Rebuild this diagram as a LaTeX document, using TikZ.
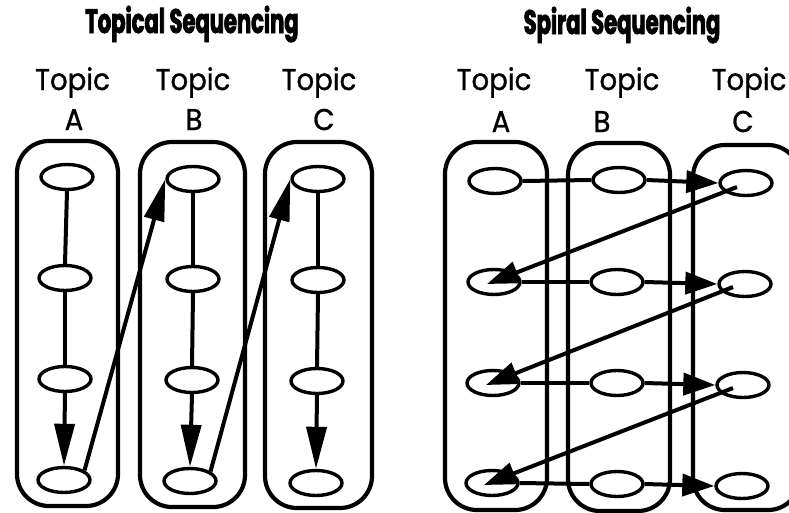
\documentclass[tikz,border=0pt]{standalone}
\usepackage{fontspec}
\setmainfont{Poppins}
\newfontfamily\headfont{Poppins}[FakeStretch=0.62,BoldFeatures={FakeBold=2.2}]
\newfontfamily\topicfont{Poppins}[FakeStretch=0.92,FakeBold=1]
\usetikzlibrary{arrows.meta,shapes.geometric}

\begin{document}
\begin{tikzpicture}[x=1pt,y=-1pt,
  group/.style={draw,line width=4.2pt,rounded corners=32pt,inner sep=0pt},
  item/.style={draw,ellipse,line width=3.4pt,minimum width=52pt,minimum height=25pt,inner sep=0pt},
  plainline/.style={line width=4pt},
  vtip/.style={line width=4pt,-{Triangle[length=42pt,width=20pt]}},
  htip/.style={line width=4pt,-{Triangle[length=32pt,width=22pt]}},
  heading/.style={font=\headfont\bfseries\fontsize{34}{36}\selectfont,inner sep=0pt,anchor=base},
  topiclbl/.style={font=\topicfont\fontsize{30}{32}\selectfont,inner sep=0pt,anchor=base}
]
\clip (0,0) rectangle (789,512);

% ---------- headings ----------
\node[heading] (hL) at (192,33) {Topical Sequencing};
\node[heading] (hR) at (622,34) {Spiral Sequencing};

\node[topiclbl] (tLA) at (72.5,90) {Topic};
\node[topiclbl] (tLB) at (193,90) {Topic};
\node[topiclbl] (tLC) at (319,90) {Topic};
\node[topiclbl] (lLA) at (74,130) {A};
\node[topiclbl] (lLB) at (194,130) {B};
\node[topiclbl] (lLC) at (324,130) {C};

\node[topiclbl] (tRA) at (494,90) {Topic};
\node[topiclbl] (tRB) at (622,90) {Topic};
\node[topiclbl] (tRC) at (749,90) {Topic};
\node[topiclbl] (lRA) at (501,132) {A};
\node[topiclbl] (lRB) at (602,132) {B};
\node[topiclbl] (lRC) at (743,132) {C};

% ---------- topical sequencing ----------
\node[group,minimum width=101pt,minimum height=365pt] (LA) at (67.5,323.5) {};
\node[group,minimum width=105pt,minimum height=365pt] (LB) at (192.5,324.5) {};
\node[group,minimum width=107pt,minimum height=366pt] (LC) at (318.5,325) {};

\node[item] (a1) at (67,177) {};
\node[item] (a2) at (65,278) {};
\node[item] (a3) at (65,379) {};
\node[item] (a4) at (64,480) {};
\node[item] (b1) at (193,179) {};
\node[item] (b2) at (193,279) {};
\node[item] (b3) at (192,380) {};
\node[item] (b4) at (190,481) {};
\node[item] (c1) at (318,179) {};
\node[item] (c2) at (318,280) {};
\node[item] (c3) at (317,381) {};
\node[item] (c4) at (316,483) {};

\draw[plainline] (a1.south) -- (a2.north);
\draw[plainline] (a2.south) -- (a3.north);
\draw[vtip] (a3.south) -- (a4.north);
\draw[vtip] (a4.25) -- (b1.west);
\draw[plainline] (b1.south) -- (b2.north);
\draw[plainline] (b2.south) -- (b3.north);
\draw[vtip] (b3.south) -- (b4.north);
\draw[vtip] (b4.25) -- (c1.west);
\draw[plainline] (c1.south) -- (c2.north);
\draw[plainline] (c2.south) -- (c3.north);
\draw[vtip] (c3.south) -- (c4.north);

% ---------- spiral sequencing ----------
\node[group,minimum width=102pt,minimum height=368pt] (RA) at (496,326) {};
\node[group,minimum width=102pt,minimum height=368pt] (RB) at (619,327) {};
\node[group,minimum width=107pt,minimum height=365pt] (RC) at (746.5,327.5) {};

\node[item] (p1) at (495,181) {};
\node[item] (p2) at (494,282) {};
\node[item] (p3) at (493,383) {};
\node[item] (p4) at (492,483) {};
\node[item] (q1) at (619,180) {};
\node[item] (q2) at (617,282) {};
\node[item] (q3) at (617,383) {};
\node[item] (q4) at (617,484) {};
\node[item] (r1) at (746,183) {};
\node[item] (r2) at (745,284) {};
\node[item] (r3) at (743,385) {};
\node[item] (r4) at (742,486) {};

\foreach \i in {1,2,3,4}{
  \draw[plainline] (p\i.east) -- (q\i.west);
  \draw[htip] (q\i.east) -- (r\i.west);
}
\draw[htip] ([xshift=-9pt,yshift=-4pt]r1.center) -- ([xshift=-7pt,yshift=-2pt]p2.center);
\draw[htip] ([xshift=-12pt,yshift=-3pt]r2.center) -- ([xshift=-7pt,yshift=-2pt]p3.center);
\draw[htip] ([xshift=-10pt,yshift=-3pt]r3.center) -- ([xshift=-8pt,yshift=-2pt]p4.center);
\end{tikzpicture}
\end{document}
